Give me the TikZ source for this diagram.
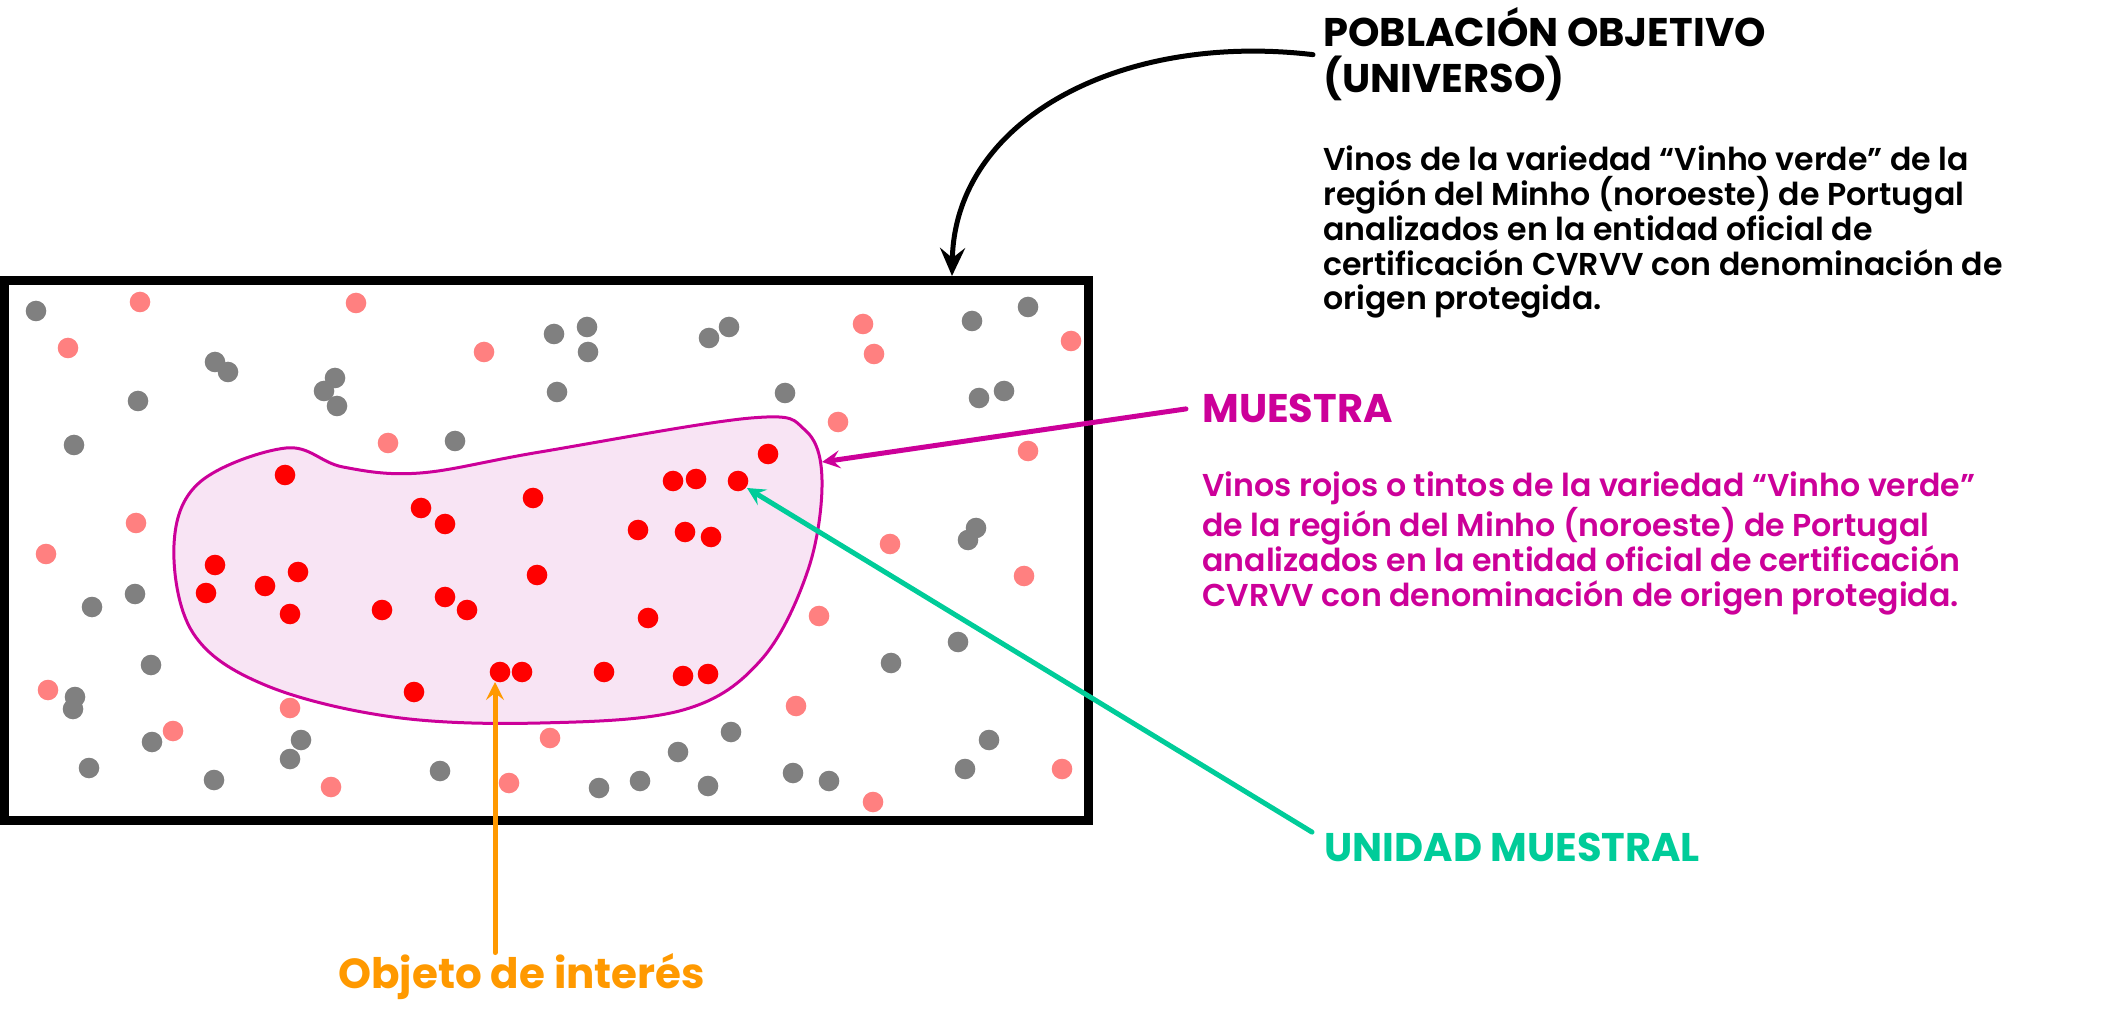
\documentclass[tikz,border=0pt]{standalone}
\usepackage{fontspec}
\setmainfont{Poppins}[UprightFont=* SemiBold,BoldFont=* Bold]
\usetikzlibrary{arrows.meta}
\definecolor{muestra}{HTML}{CC0099}
\definecolor{unidad}{HTML}{00CC99}
\definecolor{objeto}{HTML}{FF9900}
\definecolor{fondo}{HTML}{F8E4F4}
\definecolor{gris}{HTML}{808080}
\definecolor{rosa}{HTML}{FF8080}
\tikzset{
  titulo/.style={anchor=base west, inner sep=0pt, align=left,
    font=\fontsize{20}{23}\selectfont\bfseries},
  cuerpo/.style={anchor=base west, inner sep=0pt, align=left,
    font=\fontsize{15.8}{17.4}\selectfont},
  flecha/.style={line width=2.5pt, line cap=round,
    -{Stealth[length=9pt,width=9pt,inset=3.5pt]}},
  punto/.style={radius=5.15pt},
}
\begin{document}
\begin{tikzpicture}[x=0.5pt,y=-0.5pt]
\useasboundingbox (0,0) rectangle (2121,1021);
% muestra
\filldraw[fill=fondo, draw=muestra, line width=1.5pt]
  plot[smooth cycle, tension=0.6] coordinates {(174,545) (200,482) (286,448) (343,467)
  (420,473) (540,452) (751,418) (805,430) (822,480) (808,570) (761,660) (683,710)
  (540,723) (393,717) (265,685) (193,633)};
% puntos
\foreach \x/\y in {36/311,215/362,228/372,138/401,335/378,324/391,337/406,74/445,
  455/441,554/334,557/392,587/327,588/352,709/338,729/327,785/393,972/321,1028/307,
  979/398,1004/391,976/528,968/540,135/594,92/607,151/665,75/697,73/709,152/742,
  89/768,214/780,301/740,290/759,440/771,958/642,891/663,731/732,678/752,989/740,
  965/769,599/788,640/781,708/786,793/773,829/781}
  \fill[gris] (\x,\y) circle[punto];
\foreach \x/\y in {140/302,356/303,68/348,484/352,388/443,136/523,46/554,863/324,
  874/354,1071/341,838/422,1028/451,890/544,48/690,173/731,290/708,331/787,509/783,
  550/738,1024/576,819/616,796/706,873/802,1062/769}
  \fill[rosa] (\x,\y) circle[punto];
\foreach \x/\y in {285/475,421/508,445/524,533/498,215/565,206/593,265/586,298/572,
  290/614,382/610,445/597,467/610,537/575,500/672,522/672,414/692,768/454,673/481,
  696/479,738/481,638/530,685/532,711/537,648/618,604/672,683/676,708/674}
  \fill[red] (\x,\y) circle[punto];
% universo
\draw[line width=4.5pt] (4,280.5) rectangle (1088,820.5);
\coordinate (universo-borde) at (952,276);
\coordinate (muestra-borde) at (822,462);
\coordinate (unidad-punto) at (747,488);
\coordinate (objeto-punto) at (495,682);
% textos (base = ultima linea)
\node[titulo] (poblacion) at (1323,93) {POBLACIÓN OBJETIVO\\(UNIVERSO)};
\node[cuerpo] (poblacion-texto) at (1323,310) {Vinos de la variedad “Vinho verde” de la\\
  región del Minho (noroeste) de Portugal\\analizados en la entidad oficial de\\
  certificación CVRVV con denominación de\\origen protegida.};
\node[titulo, muestra] (muestra) at (1202,423) {MUESTRA};
\node[cuerpo, muestra] (muestra-texto) at (1202,606) {Vinos rojos o tintos de la variedad “Vinho verde”\\
  de la región del Minho (noroeste) de Portugal\\
  analizados en la entidad oficial de certificación\\
  CVRVV con denominación de origen protegida.};
\node[titulo, unidad] (unidad) at (1324,861) {UNIDAD MUESTRAL};
\node[titulo, objeto, font=\fontsize{21}{23}\selectfont\bfseries] (objeto) at (338,988) {Objeto de interés};
% flechas
\draw[flecha, -{Stealth[length=14pt,width=12.5pt,inset=5pt]}] ([xshift=-5pt]poblacion.west)
  .. controls (1120,32) and (955,120) .. (universo-borde);
\draw[flecha, muestra] ([xshift=-8pt]muestra.west) -- (muestra-borde);
\draw[flecha, unidad] ([xshift=-6pt]unidad.north west) -- (unidad-punto);
\draw[flecha, objeto] (objeto.north -| objeto-punto) -- (objeto-punto);
\end{tikzpicture}
\end{document}
